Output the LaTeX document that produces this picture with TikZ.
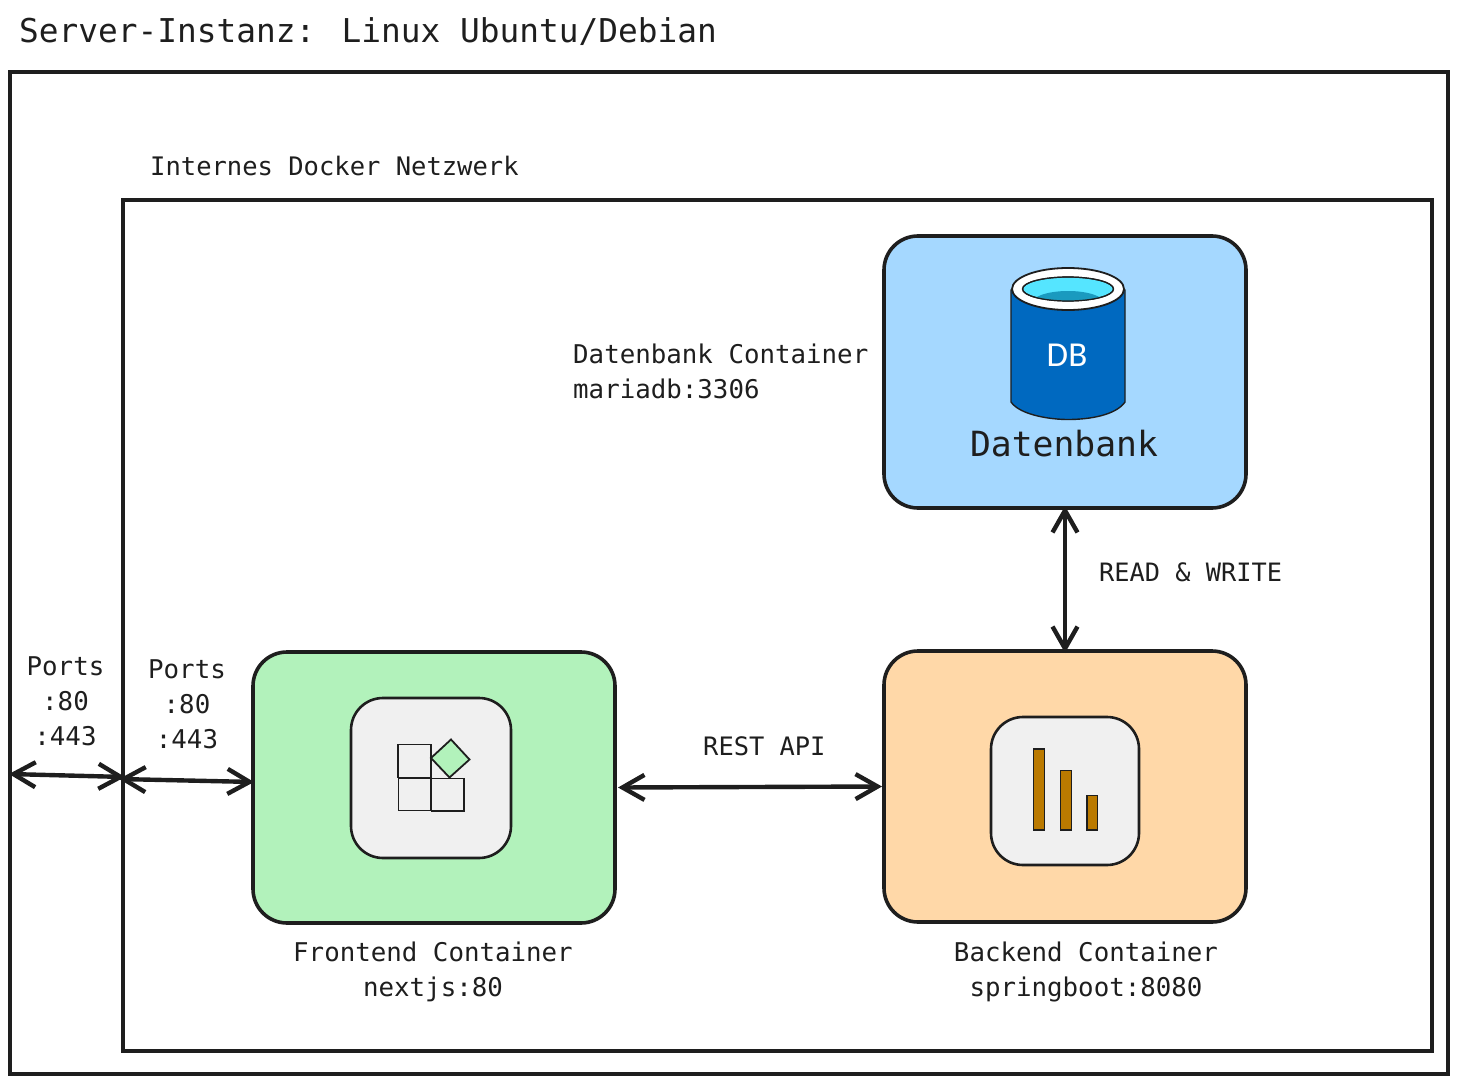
\documentclass[tikz,border=0pt]{standalone}
\usepackage{fontspec}
\setmainfont{DejaVu Sans}
\newfontfamily\handmono{DejaVu Sans Mono}
\newfontfamily\dbfont{Carlito}
\usetikzlibrary{arrows.meta}
\definecolor{ink}{HTML}{1E1E1E}
\definecolor{dbblue}{HTML}{A5D8FF}
\definecolor{fegreen}{HTML}{B2F2BB}
\definecolor{beorange}{HTML}{FFD8A8}
\definecolor{iconbg}{HTML}{F0F0F0}
\definecolor{barfill}{HTML}{BB7A00}
\definecolor{cylblue}{HTML}{0069C0}
\definecolor{cylcyan}{HTML}{55E5FF}
\definecolor{cylteal}{HTML}{1A9ABF}
\tikzset{
  frame/.style={draw=ink,line width=3.2pt,inner sep=0pt,outer sep=0pt},
  container/.style={draw=ink,line width=3.6pt,rounded corners=34pt,inner sep=0pt,outer sep=0pt,minimum width=362pt,minimum height=272pt},
  iconbox/.style={draw=ink,line width=2.6pt,fill=iconbg,rounded corners=32pt,inner sep=0pt,outer sep=0pt},
  tile/.style={draw=ink,line width=1.8pt},
  bar/.style={draw=ink,line width=1.8pt,fill=barfill},
  txt/.style={text=ink,inner sep=0pt,font=\handmono\fontsize{25.8}{35}\selectfont,align=left},
  ctxt/.style={txt,align=center},
  link/.style={draw=ink,line width=4.4pt,line cap=round,
    {Straight Barb[length=22pt,width=25pt,line width=4.4pt]}-{Straight Barb[length=22pt,width=25pt,line width=4.4pt]}},
}
\begin{document}
\begin{tikzpicture}[x=1pt,y=-1pt]
\useasboundingbox (0,0) rectangle (1458,1083);
% frames
\node[frame,minimum width=1438pt,minimum height=1002pt] (server) at (729,573) {};
\node[frame,minimum width=1309pt,minimum height=851pt] (docker) at (777.5,625.5) {};
\node[txt,anchor=west,font=\handmono\fontsize{32.8}{40}\selectfont] (servertitle) at (19,32) {Server-Instanz: Linux Ubuntu/Debian};
\node[txt,anchor=west,font=\handmono\fontsize{25.5}{35}\selectfont] (dockertitle) at (150,166) {Internes Docker Netzwerk};
% containers
\node[container,fill=dbblue] (db) at (1065,372) {};
\node[container,fill=fegreen,minimum height=271pt] (frontend) at (434,787.5) {};
\node[container,fill=beorange,minimum height=271pt] (backend) at (1065,786.5) {};
% database icon
\fill[cylblue,draw=ink,line width=1.4pt] (1011,290) -- (1011,402) .. controls (1020,415) and (1050,419.5) .. (1068,419.5) .. controls (1090,419.5) and (1116,415) .. (1125,402) -- (1125,290) -- cycle;
\draw[ink,line width=1.8pt,fill=white] (1068,289) ellipse [x radius=56pt,y radius=21pt];
\draw[ink,line width=1.2pt,fill=cylcyan] (1068,289) ellipse [x radius=45.5pt,y radius=12pt];
\begin{scope}
\clip (1068,289) ellipse [x radius=45.5pt,y radius=12pt];
\fill[cylteal] (1068,303) ellipse [x radius=36pt,y radius=12pt];
\end{scope}
\draw[ink,line width=1.2pt] (1068,289) ellipse [x radius=45.5pt,y radius=12pt];
\node[inner sep=0pt,text=white,font=\dbfont\fontsize{35}{40}\selectfont] (dbtext) at (1067,355) {DB};
\node[ctxt,font=\handmono\fontsize{34.7}{40}\selectfont] (dblabel) at (1064,444) {Datenbank};
% frontend icon
\node[iconbox,minimum width=160pt,minimum height=160pt] (feicon) at (431,778) {};
\draw[tile] (398,744.5) rectangle (431,777.5);
\draw[tile] (398.5,778) rectangle (431,810.5);
\draw[tile] (431.5,778.5) rectangle (464,811);
\draw[tile,fill=fegreen] (451,739.5) -- (469.5,759.5) -- (449.5,777.5) -- (431,758) -- cycle;
% backend icon
\node[iconbox,minimum width=148pt,minimum height=148pt] (beicon) at (1065,791) {};
\draw[bar] (1033.5,749) rectangle (1044.5,830.3);
\draw[bar] (1060.5,770.5) rectangle (1071.5,830.3);
\draw[bar] (1087,795.5) rectangle (1097.5,830.3);
% labels
\node[txt,anchor=north west] (dbname) at (573,344) {Datenbank Container\\mariadb:3306};
\node[ctxt] (fename) at (433,972) {Frontend Container\\nextjs:80};
\node[ctxt] (bename) at (1086,972) {Backend Container\\springboot:8080};
\node[ctxt] (portsouter) at (65.5,701) {Ports\\:80\\:443};
\node[ctxt] (portsinner) at (187,704) {Ports\\:80\\:443};
\node[txt,anchor=west,font=\handmono\fontsize{25.4}{35}\selectfont] (rest) at (703,746) {REST API};
\node[txt,anchor=west,font=\handmono\fontsize{25.3}{35}\selectfont] (rw) at (1099,572) {READ \& WRITE};
% connectors
\coordinate (extleft) at (9,774);
\coordinate (dockerport) at (125,777);
\coordinate (dockerportb) at (119,779);
\coordinate (feport) at (254,782);
\draw[link] (extleft) -- (dockerport);
\draw[link] (dockerportb) -- (feport);
\draw[link] ([xshift=3pt]frontend.east) -- ([xshift=-2pt]backend.west);
\draw[link] ([yshift=2pt]db.south) -- ([yshift=-2pt]backend.north);
\end{tikzpicture}
\end{document}
